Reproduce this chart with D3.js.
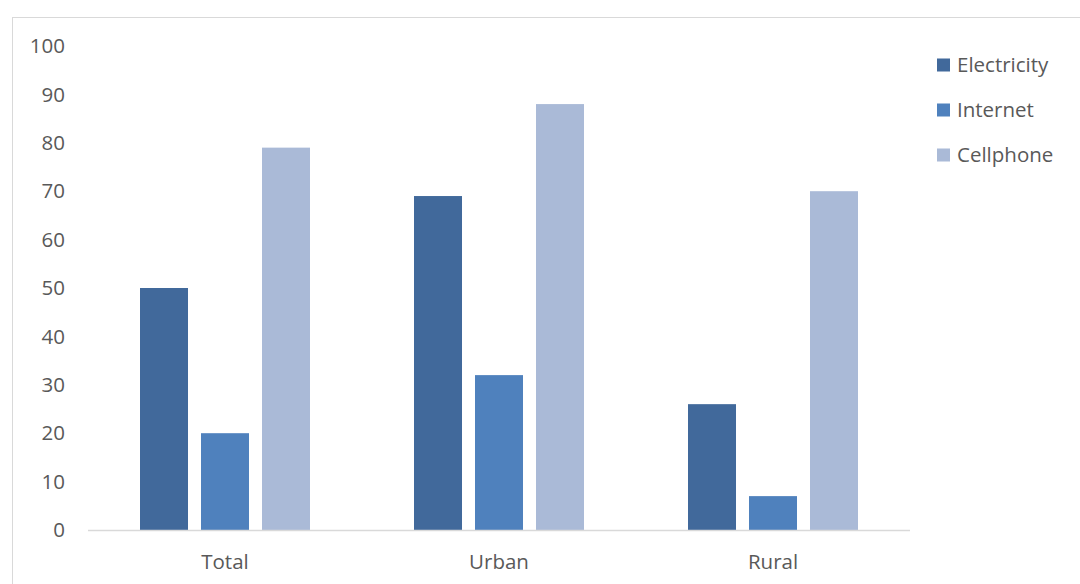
<!DOCTYPE html>
<html>
<head>
<meta charset="utf-8">
<script src="https://cdn.jsdelivr.net/npm/d3@7"></script>
<style>
  body { margin: 0; background: #fff; }
  svg { display: block; font-family: "Open Sans", Lato, sans-serif; }
</style>
</head>
<body>
<svg id="chart"></svg>
<script>
const categories = ["Total", "Urban", "Rural"];
const series = ["Electricity", "Internet", "Cellphone"];
const electricity = [50, 69, 26];
const internet = [20, 32, 7];
const cellphone = [79, 88, 70];
const yTicks = [0, 10, 20, 30, 40, 50, 60, 70, 80, 90, 100];
const colors = ["#41699b", "#4f81bd", "#aabad7"];

const width = 1080, height = 584;
const values = [electricity, internet, cellphone];
const fontSize = 20.5;

const svg = d3.select("#chart")
    .attr("width", width)
    .attr("height", height);

// outer chart frame
svg.append("rect")
    .attr("x", 12.5).attr("y", 17.5)
    .attr("width", 1200).attr("height", 700)
    .attr("fill", "none")
    .attr("stroke", "#d9d9d9");

const x0 = d3.scaleBand().domain(categories).range([88, 910]);
const x1 = d3.scaleBand().domain(series).range([52, 222]).paddingInner(0.213);
const y = d3.scaleLinear().domain([0, 100]).range([530, 46]);

// y tick labels
svg.append("g")
  .selectAll("text")
  .data(yTicks)
  .join("text")
    .attr("x", 65)
    .attr("y", d => y(d))
    .attr("dy", "0.35em")
    .attr("text-anchor", "end")
    .attr("font-size", fontSize)
    .attr("fill", "#595959")
    .text(d => d);

// bars
const group = svg.append("g")
  .selectAll("g")
  .data(categories)
  .join("g")
    .attr("transform", d => `translate(${x0(d)},0)`);

group.selectAll("rect")
  .data((c, i) => series.map((s, j) => ({ s, j, v: values[j][i] })))
  .join("rect")
    .attr("x", d => x1(d.s))
    .attr("y", d => y(d.v))
    .attr("width", x1.bandwidth())
    .attr("height", d => y(0) - y(d.v))
    .attr("fill", d => colors[d.j]);

// baseline
svg.append("line")
    .attr("x1", 88).attr("x2", 910)
    .attr("y1", y(0) + 0.5).attr("y2", y(0) + 0.5)
    .attr("stroke", "#d9d9d9")
    .attr("stroke-width", 1.5);

// category labels
svg.append("g")
  .selectAll("text")
  .data(categories)
  .join("text")
    .attr("x", d => x0(d) + x0.bandwidth() / 2)
    .attr("y", 562)
    .attr("dy", "0.35em")
    .attr("text-anchor", "middle")
    .attr("font-size", fontSize)
    .attr("fill", "#595959")
    .text(d => d);

// legend
const legend = svg.append("g")
  .selectAll("g")
  .data(series)
  .join("g")
    .attr("transform", (d, i) => `translate(937,${65 + i * 45})`);

legend.append("rect")
    .attr("x", 0).attr("y", -6.5)
    .attr("width", 13).attr("height", 13)
    .attr("fill", (d, i) => colors[i]);

legend.append("text")
    .attr("x", 20)
    .attr("dy", "0.35em")
    .attr("font-size", fontSize)
    .attr("fill", "#595959")
    .text(d => d);
</script>
</body>
</html>
